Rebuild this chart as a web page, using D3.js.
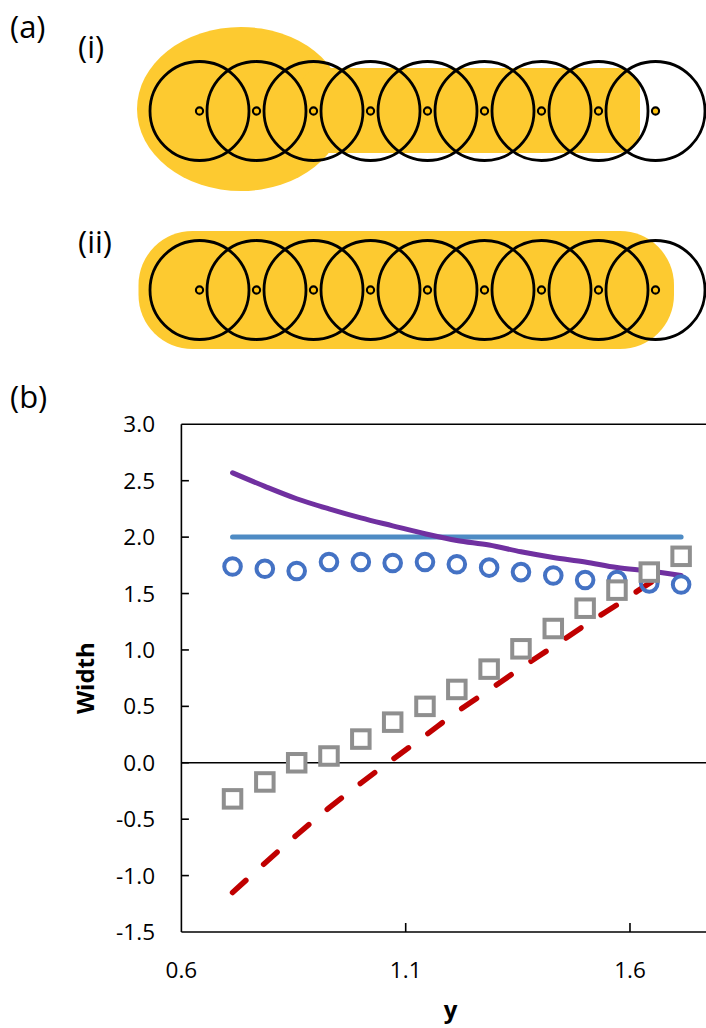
<!DOCTYPE html>
<html lang="en">
<head>
<meta charset="UTF-8">
<title>Width vs y</title>
<script src="https://d3js.org/d3.v7.min.js"></script>
<style>
    body { margin: 0; background: #fff; }
    svg { display: block; font-family: "Open Sans", sans-serif; }
    .tick-label { font-size: 22.5px; fill: #000; }
    .axis-title { font-size: 24px; font-weight: bold; fill: #000; }
    .panel-label { font-size: 31px; fill: #000; }
    .frame { stroke: #000; stroke-width: 1.6; fill: none; }
</style>
</head>
<body>
<svg id="fig" width="706" height="1028"></svg>
<script>
    // ---- panel (b) data ----
    const yVals = [0.714, 0.786, 0.857, 0.929, 1.0, 1.071, 1.143, 1.214, 1.286, 1.357, 1.429, 1.5, 1.571, 1.643, 1.714];
    const widthCircles = [1.74, 1.72, 1.70, 1.78, 1.78, 1.77, 1.78, 1.76, 1.73, 1.69, 1.66, 1.62, 1.62, 1.59, 1.58];
    const widthSquares = [-0.32, -0.17, 0.0, 0.06, 0.21, 0.36, 0.50, 0.65, 0.83, 1.01, 1.19, 1.37, 1.53, 1.69, 1.83];
    const widthPurple = [2.57, 2.45, 2.34, 2.25, 2.17, 2.10, 2.03, 1.97, 1.93, 1.87, 1.82, 1.78, 1.73, 1.70, 1.66];
    const widthFlat = [2.0, 2.0, 2.0, 2.0, 2.0, 2.0, 2.0, 2.0, 2.0, 2.0, 2.0, 2.0, 2.0, 2.0, 2.0];
    const redX = [0.714, 0.786, 0.857, 0.929, 1.0, 1.071, 1.143, 1.214, 1.286, 1.357, 1.429, 1.5, 1.571, 1.643, 1.675];
    const redY = [-1.15, -0.89, -0.64, -0.40, -0.18, 0.03, 0.24, 0.45, 0.645, 0.84, 1.03, 1.22, 1.40, 1.59, 1.665];
    const xTicks = [0.6, 1.1, 1.6];
    const yTicks = [-1.5, -1.0, -0.5, 0.0, 0.5, 1.0, 1.5, 2.0, 2.5, 3.0];

    // ---- panel (a): nine overlapping discs ----
    const discIndex = [0, 1, 2, 3, 4, 5, 6, 7, 8];

    const svg = d3.select("#fig");

    // ================= panel (a) =================
    const sx = d3.scaleLinear().domain([0, 8]).range([199.5, 655.5]);
    const discR = 49.5;
    const yellow = "#FDCA30";

    function drawRow(g, cy) {
        g.selectAll("circle.disc")
            .data(discIndex)
            .enter().append("circle")
            .attr("class", "disc")
            .attr("cx", d => sx(d))
            .attr("cy", cy)
            .attr("r", discR)
            .attr("fill", "none")
            .attr("stroke", "#000")
            .attr("stroke-width", 2.8);
        g.selectAll("circle.dot")
            .data(discIndex)
            .enter().append("circle")
            .attr("class", "dot")
            .attr("cx", d => sx(d))
            .attr("cy", cy)
            .attr("r", 3.6)
            .attr("fill", "#FFC20E")
            .attr("stroke", "#000")
            .attr("stroke-width", 2.1);
    }

    // row (i)
    const rowI = svg.append("g");
    rowI.append("ellipse")
        .attr("cx", 241).attr("cy", 109)
        .attr("rx", 104).attr("ry", 82)
        .attr("fill", yellow);
    rowI.append("rect")
        .attr("x", 300).attr("y", 68)
        .attr("width", 340).attr("height", 85)
        .attr("rx", 22)
        .attr("fill", yellow);
    drawRow(rowI, 111);

    // row (ii)
    const rowII = svg.append("g");
    rowII.append("rect")
        .attr("x", 138.5).attr("y", 231)
        .attr("width", 535.5).attr("height", 118)
        .attr("rx", 54)
        .attr("fill", yellow);
    drawRow(rowII, 290);

    svg.append("text").attr("class", "panel-label").attr("x", 10).attr("y", 38).text("(a)");
    svg.append("text").attr("class", "panel-label").attr("x", 78).attr("y", 58).text("(i)");
    svg.append("text").attr("class", "panel-label").attr("x", 78).attr("y", 253).text("(ii)");
    svg.append("text").attr("class", "panel-label").attr("x", 10).attr("y", 408).text("(b)");

    // ================= panel (b) =================
    const x = d3.scaleLinear().domain([0.6, 1.8]).range([181.4, 719.7]);
    const y = d3.scaleLinear().domain([-1.5, 3.0]).range([932, 424.3]);
    const fmt = d => d.toFixed(1);

    const plot = svg.append("g");

    // frame
    plot.append("line").attr("class", "frame")
        .attr("x1", x(0.6)).attr("x2", x(1.8)).attr("y1", y(3.0)).attr("y2", y(3.0));
    plot.append("line").attr("class", "frame")
        .attr("x1", x(0.6)).attr("x2", x(1.8)).attr("y1", y(-1.5)).attr("y2", y(-1.5));
    plot.append("line").attr("class", "frame")
        .attr("x1", x(0.6)).attr("x2", x(0.6)).attr("y1", y(-1.5)).attr("y2", y(3.0));
    // zero line
    plot.append("line").attr("class", "frame")
        .attr("x1", x(0.6)).attr("x2", x(1.8)).attr("y1", y(0)).attr("y2", y(0));

    // y ticks (inside) and labels
    plot.selectAll("line.ytick")
        .data(yTicks.slice(1, -1))
        .enter().append("line")
        .attr("class", "frame")
        .attr("x1", x(0.6)).attr("x2", x(0.6) + 7.5)
        .attr("y1", d => y(d)).attr("y2", d => y(d));
    plot.selectAll("text.ylab")
        .data(yTicks)
        .enter().append("text")
        .attr("class", "tick-label")
        .attr("x", 155)
        .attr("y", d => y(d))
        .attr("dy", "0.36em")
        .attr("text-anchor", "end")
        .text(fmt);

    // x ticks (inside) and labels
    plot.selectAll("line.xtick")
        .data(xTicks.slice(1))
        .enter().append("line")
        .attr("class", "frame")
        .attr("x1", d => x(d)).attr("x2", d => x(d))
        .attr("y1", y(-1.5)).attr("y2", y(-1.5) - 9);
    plot.selectAll("text.xlab")
        .data(xTicks)
        .enter().append("text")
        .attr("class", "tick-label")
        .attr("x", d => x(d))
        .attr("y", 977.5)
        .attr("text-anchor", "middle")
        .text(fmt);

    // axis titles
    plot.append("text").attr("class", "axis-title")
        .attr("x", x(1.2)).attr("y", 1018)
        .attr("text-anchor", "middle").text("y");
    plot.append("text").attr("class", "axis-title")
        .attr("transform", `translate(94,${(y(3) + y(-1.5)) / 2}) rotate(-90)`)
        .attr("text-anchor", "middle").text("Width");

    // series
    const line = d3.line().x(d => x(d[0])).y(d => y(d[1])).curve(d3.curveMonotoneX);

    plot.append("path")
        .attr("d", line(d3.zip(yVals, widthFlat)))
        .attr("fill", "none")
        .attr("stroke", "#4E8BC4")
        .attr("stroke-width", 5)
        .attr("stroke-linecap", "round");

    plot.append("path")
        .attr("d", line(d3.zip(yVals, widthPurple)))
        .attr("fill", "none")
        .attr("stroke", "#7030A0")
        .attr("stroke-width", 5)
        .attr("stroke-linecap", "round");

    plot.append("path")
        .attr("d", line(d3.zip(redX, redY)))
        .attr("fill", "none")
        .attr("stroke", "#C00000")
        .attr("stroke-width", 5.5)
        .attr("stroke-linecap", "round")
        .attr("stroke-dasharray", "18 24");

    plot.selectAll("circle.pt")
        .data(d3.zip(yVals, widthCircles))
        .enter().append("circle")
        .attr("cx", d => x(d[0]))
        .attr("cy", d => y(d[1]))
        .attr("r", 8.3)
        .attr("fill", "none")
        .attr("stroke", "#4472C4")
        .attr("stroke-width", 4);

    const sq = 17.5;
    plot.selectAll("rect.pt")
        .data(d3.zip(yVals, widthSquares))
        .enter().append("rect")
        .attr("x", d => x(d[0]) - sq / 2)
        .attr("y", d => y(d[1]) - sq / 2)
        .attr("width", sq)
        .attr("height", sq)
        .attr("fill", "#fff")
        .attr("stroke", "#8F8F8F")
        .attr("stroke-width", 4);
</script>
</body>
</html>
